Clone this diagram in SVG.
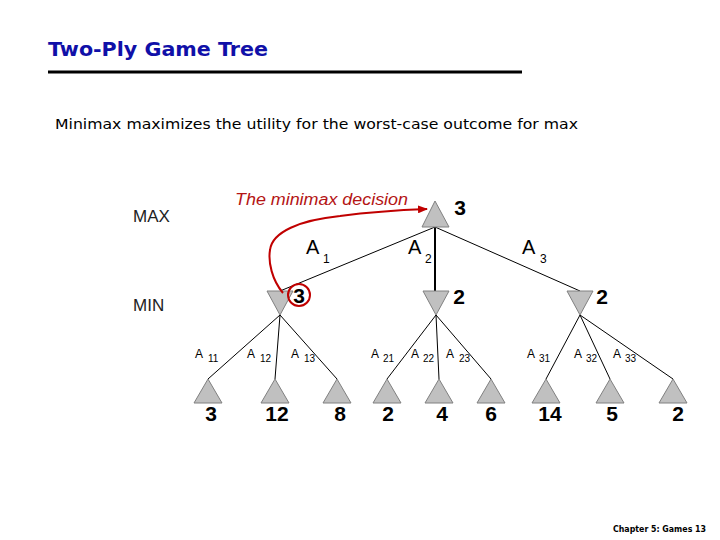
<svg xmlns="http://www.w3.org/2000/svg" width="720" height="540" viewBox="0 0 720 540">
<style>
.tri{fill:#c0c0c0;stroke:#808080;stroke-width:1}
.edge{stroke:#000;stroke-width:1;fill:none}
.val{font-family:"Liberation Sans",Arial,sans-serif;font-weight:bold;font-size:21px;fill:#000;text-anchor:middle}
.lvl{font-family:"Liberation Sans",Arial,sans-serif;font-size:17px;fill:#222}
.a1{font-family:"Liberation Sans",Arial,sans-serif;font-size:20px;fill:#000}
.s1{font-family:"Liberation Sans",Arial,sans-serif;font-size:12px;fill:#000}
.a2{font-family:"Liberation Sans",Arial,sans-serif;font-size:12px;fill:#000}
.s2{font-family:"Liberation Sans",Arial,sans-serif;font-size:10px;fill:#000}
</style>
<defs>
<marker id="arr" markerWidth="10" markerHeight="8" refX="9" refY="4" orient="auto" markerUnits="userSpaceOnUse">
<path d="M0,0 L10,4 L0,8 z" fill="#c00000"/>
</marker>
</defs>
<rect width="720" height="540" fill="#fff"/>
<text x="48" y="56" font-family="'DejaVu Sans',Verdana,sans-serif" font-weight="bold" font-size="19" fill="#1010a8" textLength="220" lengthAdjust="spacingAndGlyphs">Two-Ply Game Tree</text>
<line x1="48" y1="72" x2="522" y2="72" stroke="#000" stroke-width="3"/>
<text x="55" y="129" font-family="'DejaVu Sans',Verdana,sans-serif" font-size="14" fill="#000" textLength="523" lengthAdjust="spacingAndGlyphs">Minimax maximizes the utility for the worst-case outcome for max</text>
<text class="lvl" x="133" y="222">MAX</text>
<text class="lvl" x="133" y="311">MIN</text>
<g id="connectors">
<line class="edge" x1="435" y1="227" x2="280" y2="291"/>
<line x1="435" y1="227" x2="435" y2="291" stroke="#000" stroke-width="2"/>
<line class="edge" x1="435" y1="227" x2="580" y2="291"/>
<line class="edge" x1="280" y1="315" x2="208" y2="379"/>
<line class="edge" x1="280" y1="315" x2="275" y2="379"/>
<line class="edge" x1="280" y1="315" x2="337" y2="379"/>
<line class="edge" x1="436" y1="315" x2="387" y2="379"/>
<line class="edge" x1="436" y1="315" x2="439" y2="379"/>
<line class="edge" x1="436" y1="315" x2="491" y2="379"/>
<line class="edge" x1="580" y1="315" x2="546" y2="379"/>
<line class="edge" x1="580" y1="315" x2="610" y2="379"/>
<line class="edge" x1="580" y1="315" x2="673" y2="379"/>
</g>
<g id="root"><polygon class="tri" points="435,201 422,227 449,227"/><text class="val" x="460" y="215">3</text></g>
<g id="min1"><polygon class="tri" points="267,291 293,291 280,315"/><text class="val" x="299" y="303">3</text></g>
<g id="min2"><polygon class="tri" points="423,291 449,291 436,315"/><text class="val" x="459" y="304">2</text></g>
<g id="min3"><polygon class="tri" points="567,291 593,291 580,315"/><text class="val" x="602" y="304">2</text></g>
<g id="leaf1"><polygon class="tri" points="208,379 194,403 222,403"/><text class="val" x="211" y="421">3</text></g>
<g id="leaf2"><polygon class="tri" points="275,379 261,403 289,403"/><text class="val" x="277" y="421">12</text></g>
<g id="leaf3"><polygon class="tri" points="337,379 323,403 351,403"/><text class="val" x="340" y="421">8</text></g>
<g id="leaf4"><polygon class="tri" points="387,379 373,403 401,403"/><text class="val" x="388" y="421">2</text></g>
<g id="leaf5"><polygon class="tri" points="439,379 425,403 453,403"/><text class="val" x="442" y="421">4</text></g>
<g id="leaf6"><polygon class="tri" points="491,379 477,403 505,403"/><text class="val" x="491" y="421">6</text></g>
<g id="leaf7"><polygon class="tri" points="546,379 532,403 560,403"/><text class="val" x="550" y="421">14</text></g>
<g id="leaf8"><polygon class="tri" points="610,379 596,403 624,403"/><text class="val" x="612" y="421">5</text></g>
<g id="leaf9"><polygon class="tri" points="673,379 659,403 687,403"/><text class="val" x="678" y="421">2</text></g>
<g id="labels">
<text class="a1" x="306" y="254">A</text><text class="s1" x="323" y="263">1</text>
<text class="a1" x="408" y="254">A</text><text class="s1" x="425" y="263">2</text>
<text class="a1" x="522" y="254">A</text><text class="s1" x="540" y="263">3</text>
<text class="a2" x="195" y="358">A</text><text class="s2" x="208" y="362">11</text>
<text class="a2" x="247" y="358">A</text><text class="s2" x="260" y="362">12</text>
<text class="a2" x="291" y="358">A</text><text class="s2" x="304" y="362">13</text>
<text class="a2" x="371" y="358">A</text><text class="s2" x="383" y="362">21</text>
<text class="a2" x="411" y="358">A</text><text class="s2" x="423" y="362">22</text>
<text class="a2" x="446" y="358">A</text><text class="s2" x="459" y="362">23</text>
<text class="a2" x="527" y="358">A</text><text class="s2" x="539" y="362">31</text>
<text class="a2" x="574" y="358">A</text><text class="s2" x="586" y="362">32</text>
<text class="a2" x="613" y="358">A</text><text class="s2" x="625" y="362">33</text>
</g>
<g id="decision">
<text x="235" y="205" font-family="'Liberation Sans',Arial,sans-serif" font-style="italic" font-size="16" fill="#b41414" textLength="173" lengthAdjust="spacingAndGlyphs">The minimax decision</text>
<path d="M283,293 C272,280 268,262 270,250 C272,232 300,220 340,216 C370,212 400,210 427,209" fill="none" stroke="#c00000" stroke-width="2" marker-end="url(#arr)"/>
<circle cx="299" cy="295" r="11" fill="none" stroke="#c00000" stroke-width="2"/>
</g>
<text x="613" y="532" font-family="'DejaVu Sans',Verdana,sans-serif" font-weight="bold" font-size="8" fill="#000" textLength="93" lengthAdjust="spacingAndGlyphs">Chapter 5: Games 13</text>
</svg>
